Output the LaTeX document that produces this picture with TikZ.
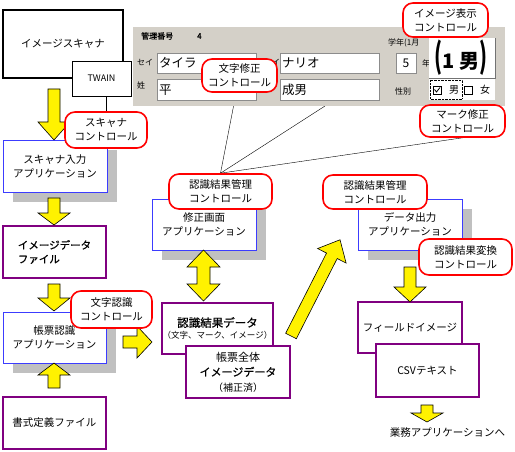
\documentclass[tikz,border=0pt]{standalone}
\usepackage{fontspec}
\setmainfont{Noto Sans CJK JP}
\newfontfamily\semibold[FakeBold=0.7]{Noto Sans CJK JP}
\usetikzlibrary{calc,positioning,shadows}
\pgfdeclarelayer{background}
\pgfsetlayers{background,main}

\definecolor{appblue}{RGB}{60,60,255}
\definecolor{datpurple}{RGB}{128,0,128}
\definecolor{shadowgray}{RGB}{192,192,192}
\definecolor{formgray}{RGB}{212,208,200}

\newcommand{\yarrow}[5]{%
    \draw[yarr, shift={(#1,#2)}, rotate=#3] (0,-6) -- (#4-#5,-6) -- (#4-#5,-16) -- (#4,0) -- (#4-#5,16) -- (#4-#5,6) -- (0,6) -- cycle;}

\begin{document}
\begin{tikzpicture}[x=1pt, y=-1pt,
    txt/.style={font=\fontsize{10.5}{14}\selectfont},
    ctl/.style={txt, draw=red, line width=1.6pt, fill=white, rounded corners=10pt, align=center, inner sep=0pt},
    app/.style={txt, draw=appblue, line width=0.9pt, fill=white, align=center, inner sep=0pt,
        drop shadow={shadow xshift=10pt, shadow yshift=-10pt, fill=shadowgray, opacity=1}},
    dat/.style={txt, draw=datpurple, line width=1.3pt, fill=white, align=center, inner sep=0pt},
    yarr/.style={draw=black, fill=yellow, line width=0.6pt},
    fld/.style={draw=black!45, fill=white},
    lbl/.style={font=\fontsize{8}{9}\selectfont, inner sep=0pt, anchor=west}]

    \useasboundingbox (0,0) rectangle (515,452);

    \fill[formgray] (133,27) rectangle (505,106);
    \node[lbl, font=\fontsize{8}{9}\selectfont\semibold] at (141,36) {管理番号};
    \node[lbl, font=\fontsize{8}{9}\selectfont\semibold] at (197,36) {4};
    \node[lbl] at (137,62) {セイ};
    \node[lbl] at (137,85) {姓};
    \node[lbl] at (272,62) {イ};
    \draw[fld] (157,53) rectangle (256,73);
    \draw[fld] (157,79) rectangle (256,100);
    \draw[fld] (280,53) rectangle (379,73);
    \draw[fld] (280,79) rectangle (379,100);
    \node[lbl, font=\fontsize{12.5}{14}\selectfont] at (159,63) {タイラ};
    \node[lbl, font=\fontsize{12.5}{14}\selectfont] at (159,90) {平};
    \node[lbl, font=\fontsize{12.5}{14}\selectfont] at (282,63) {ナリオ};
    \node[lbl, font=\fontsize{12.5}{14}\selectfont] at (282,90) {成男};
    \node[lbl] at (388,43) {学年(1月};
    \draw[fld] (396,53) rectangle (416,73);
    \node[font=\fontsize{12}{14}\selectfont] at (406,63) {5};
    \node[lbl] at (422,63) {年};
    \node[lbl] at (395,91) {性別};
    \fill[white] (429,38) rectangle (495,78);
    \draw[black!55] (429,78) -- (495,78) -- (495,38);
    \node[font=\fontsize{20}{20}\selectfont\bfseries] at (461,58) {\scalebox{1}[1.7]{(}1 男\scalebox{1}[1.7]{)}};
    \fill[white] (429,79) rectangle (495,100);
    \draw[densely dotted] (430,80) rectangle (462,99);
    \draw (433,86) rectangle (441,94);
    \draw[thick] (434.5,89.5) -- (436.5,92) -- (440,87.5);
    \node[lbl, font=\fontsize{10}{11}\selectfont] at (449,90) {男};
    \draw (464,86) rectangle (472,94);
    \node[lbl, font=\fontsize{10}{11}\selectfont] at (480,90) {女};
    \coordinate (seimei) at (325,106);

    \node[draw, line width=1.6pt, minimum width=120pt, minimum height=68pt, txt] (scanner) at (63,44) {イメージスキャナ};
    \node[draw, fill=white, minimum width=59pt, minimum height=35pt, font=\fontsize{9}{10}\selectfont] (twain) at (101.5,78.5) {TWAIN};
    \node[app, minimum width=104pt, minimum height=52pt] (scanapp) at (55,166) {スキャナ入力\\アプリケーション};
    \node[dat, minimum width=103pt, minimum height=52pt, align=left, font=\fontsize{10.5}{14}\selectfont\semibold] (imgfile) at (54.5,252) {イメージデータ\\ファイル};
    \node[app, minimum width=103pt, minimum height=51pt] (formapp) at (54.5,337.5) {帳票認識\\アプリケーション};
    \node[dat, minimum width=103pt, minimum height=52pt] (formdef) at (54.5,423) {書式定義ファイル};
    \node[app, minimum width=104pt, minimum height=51pt] (fixapp) at (204,224.5) {修正画面\\アプリケーション};
    \node[dat, minimum width=111pt, minimum height=51pt, font=\fontsize{11.5}{12}\selectfont] (result) at (217.5,328.5) {{\semibold 認識結果データ}\\{\fontsize{8.5}{10}\selectfont （文字、マーク、イメージ）}};
    \node[dat, minimum width=104pt, minimum height=52pt, font=\fontsize{11}{15}\selectfont] (whole) at (238,372) {帳票全体\\{\semibold イメージデータ}\\{\fontsize{10}{12}\selectfont （補正済）}};
    \node[app, minimum width=104pt, minimum height=51pt] (outapp) at (410,224.5) {データ出力\\アプリケーション};
    \node[dat, minimum width=104pt, minimum height=51pt] (fieldimg) at (410,327.5) {フィールドイメージ};
    \node[dat, minimum width=103pt, minimum height=53pt] (csv) at (427.5,370.5) {CSVテキスト};
    \node[txt] (gyomu) at (447.5,433) {業務アプリケーションへ};

    \yarrow{54}{89}{-90}{51}{18}
    \yarrow{54}{198}{-90}{27}{12}
    \yarrow{54}{284}{-90}{27}{13}
    \yarrow{54}{388}{90}{25}{12}
    \yarrow{123}{342}{0}{29}{15}
    \draw[yarr] (203.5,250) -- (220,267) -- (210,267) -- (210,284) -- (220,284) -- (203.5,301) -- (187,284) -- (197,284) -- (197,267) -- (187,267) -- cycle;
    \yarrow{291}{336}{63}{108}{18}
    \yarrow{410}{267}{-90}{35}{15}
    \yarrow{427}{405}{-90}{17}{9}

    \node[ctl, minimum width=82pt, minimum height=36pt] (scanctl) at (106,130) {スキャナ\\コントロール};
    \node[ctl, minimum width=75pt, minimum height=33pt] (charctl) at (239.5,75.5) {文字修正\\コントロール};
    \node[ctl, minimum width=85pt, minimum height=34pt] (imgctl) at (445.5,20) {イメージ表示\\コントロール};
    \node[ctl, minimum width=85pt, minimum height=32pt] (markctl) at (462.5,121) {マーク修正\\コントロール};
    \node[ctl, minimum width=103pt, minimum height=35pt] (mgr1) at (220.5,191.5) {認識結果管理\\コントロール};
    \node[ctl, minimum width=104pt, minimum height=34pt] (mgr2) at (375,192) {認識結果管理\\コントロール};
    \node[ctl, minimum width=93pt, minimum height=36pt] (convctl) at (465.5,257) {認識結果変換\\コントロール};
    \node[ctl, minimum width=81pt, minimum height=37pt] (ocrctl) at (111.5,309.5) {文字認識\\コントロール};

    \draw (scanctl.north) -- (scanctl.north |- twain.south);
    \begin{pgfonlayer}{background}
        \draw (mgr1.north) -- (charctl);
        \draw (mgr1.north) -- (seimei);
        \draw (mgr1.north) -- (markctl.south);
    \end{pgfonlayer}
\end{tikzpicture}
\end{document}
